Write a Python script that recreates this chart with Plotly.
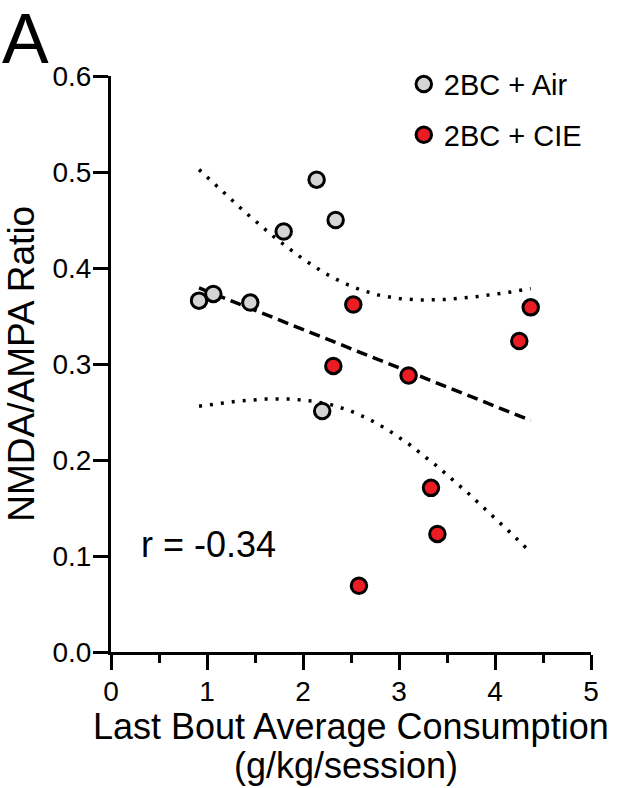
import numpy as np
import plotly.graph_objects as go

# ---- data ----
air_x = [0.917, 1.066, 1.451, 1.799, 2.142, 2.340, 2.200]
air_y = [0.366, 0.373, 0.364, 0.438, 0.492, 0.450, 0.251]
cie_x = [2.316, 2.524, 4.372, 4.253, 3.100, 3.333, 3.400, 2.583]
cie_y = [0.298, 0.362, 0.359, 0.324, 0.288, 0.171, 0.123, 0.069]
x_ticks = [0, 1, 2, 3, 4, 5]
y_ticks = [0.0, 0.1, 0.2, 0.3, 0.4, 0.5, 0.6]
r_label = "r = -0.34"
T_975_DF13 = 2.1604  # Student t quantile for 95% CI, df = n - 2 = 13

# ---- linear regression with 95% confidence band (computed from data) ----
X = np.array(air_x + cie_x)
Y = np.array(air_y + cie_y)
n = len(X)
slope, intercept = np.polyfit(X, Y, 1)
resid = Y - (slope * X + intercept)
s = np.sqrt(np.sum(resid ** 2) / (n - 2))
sxx = np.sum((X - X.mean()) ** 2)
xf = np.linspace(X.min(), X.max(), 200)
yf = slope * xf + intercept
half = T_975_DF13 * s * np.sqrt(1.0 / n + (xf - X.mean()) ** 2 / sxx)

FONT = "Liberation Sans, Arial, Helvetica, sans-serif"

fig = go.Figure()
fig.add_trace(go.Scatter(x=xf, y=yf + half, mode="lines", showlegend=False,
                         line=dict(color="black", width=3.5, dash="3px,8px"), hoverinfo="skip"))
fig.add_trace(go.Scatter(x=xf, y=yf - half, mode="lines", showlegend=False,
                         line=dict(color="black", width=3.5, dash="3px,8px"), hoverinfo="skip"))
fig.add_trace(go.Scatter(x=xf, y=yf, mode="lines", showlegend=False,
                         line=dict(color="black", width=3.5, dash="11px,6px"), hoverinfo="skip"))
fig.add_trace(go.Scatter(x=air_x, y=air_y, mode="markers", name="2BC + Air", legendgroup="air",
                         marker=dict(size=15.5, color="#d4d4d4", line=dict(color="black", width=3))))
fig.add_trace(go.Scatter(x=cie_x, y=cie_y, mode="markers", name="2BC + CIE", legendgroup="cie",
                         marker=dict(size=15.5, color="#ec1c24", line=dict(color="black", width=3))))

axis_common = dict(showline=True, linecolor="black", linewidth=3, showgrid=False, zeroline=False,
                   ticks="outside", ticklen=15, tickwidth=3, tickcolor="black",
                   tickfont=dict(family=FONT, size=28, color="black"))

fig.update_xaxes(range=[0, 5], tickvals=x_ticks, ticktext=[str(v) for v in x_ticks],
                 minor=dict(dtick=0.5, ticks="outside", ticklen=8, tickwidth=3, tickcolor="black"),
                 ticklabelstandoff=-3, **axis_common)
fig.update_yaxes(range=[0, 0.6], tickvals=y_ticks, ticktext=[f"{v:.1f}" for v in y_ticks],
                 ticklabelstandoff=-4, **axis_common)

ann_font = dict(family=FONT, size=36, color="black")
fig.add_annotation(text="NMDA/AMPA Ratio", xref="paper", yref="paper", x=-0.188, y=0.5,
                   xanchor="center", yanchor="middle", textangle=-90, showarrow=False,
                   font=dict(family=FONT, size=37, color="black"))
fig.add_annotation(text="Last Bout Average Consumption", xref="paper", yref="paper", x=0.5, y=-0.1285,
                   xanchor="center", yanchor="middle", showarrow=False, font=ann_font)
fig.add_annotation(text="(g/kg/session)", xref="paper", yref="paper", x=0.49, y=-0.197,
                   xanchor="center", yanchor="middle", showarrow=False, font=ann_font)
fig.add_annotation(text=r_label, xref="x", yref="y", x=0.29, y=0.1125,
                   xanchor="left", yanchor="middle", showarrow=False, font=dict(family=FONT, size=36, color="black"))
fig.add_annotation(text="A", xref="paper", yref="paper", x=-0.23125, y=1.064,
                   xanchor="left", yanchor="middle", showarrow=False, font=dict(family=FONT, size=70, color="black"))

fig.update_layout(
    width=624, height=788,
    margin=dict(l=111, r=33, t=76, b=136),
    paper_bgcolor="white", plot_bgcolor="white",
    showlegend=True,
    legend=dict(x=0.61, y=1.03, xanchor="left", yanchor="top", bgcolor="rgba(0,0,0,0)",
                font=dict(family=FONT, size=29, color="black"), tracegroupgap=10,
                traceorder="grouped"),
)

fig.write_html("out.html", config={"displayModeBar": False},
               post_script="document.body.style.margin='0px';")
